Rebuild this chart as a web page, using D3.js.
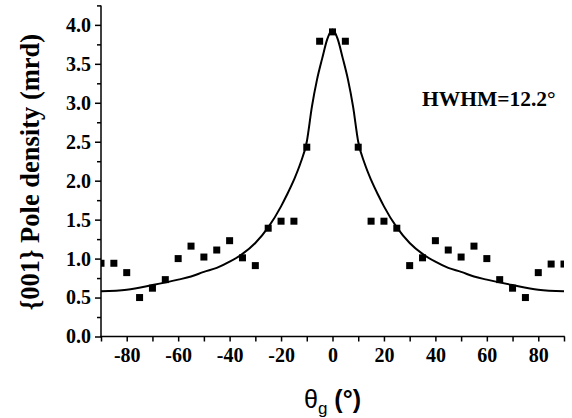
<!DOCTYPE html>
<html>
<head>
<meta charset="utf-8">
<script src="https://cdn.jsdelivr.net/npm/d3@7/dist/d3.min.js"></script>
<style>
  html, body { margin: 0; padding: 0; background: #fff; }
  svg { display: block; }
</style>
</head>
<body>
<svg id="chart" width="572" height="418"></svg>
<script>
// Measured points
const theta = [-90,-85,-80,-75,-70,-65,-60,-55,-50,-45,-40,-35,-30,-25,-20,-15,-10,-5,0,5,10,15,20,25,30,35,40,45,50,55,60,65,70,75,80,85,90];
const density = [0.94,0.94,0.82,0.50,0.62,0.73,1.00,1.16,1.02,1.11,1.23,1.01,0.91,1.39,1.48,1.48,2.43,3.79,3.91,3.79,2.43,1.48,1.48,1.39,0.91,1.01,1.23,1.11,1.02,1.16,1.00,0.73,0.62,0.50,0.82,0.93,0.93];

// Fitted curve
const fitTheta = [-90,-80,-70,-60,-55,-50,-45,-40,-35,-30,-25,-20,-18,-15,-12.5,-10,-8,-6,-4,-2,0,2,4,6,8,10,12.5,15,18,20,25,30,35,40,45,50,55,60,70,80,90];
const fitDensity = [0.58,0.60,0.66,0.73,0.77,0.83,0.88,0.96,1.06,1.20,1.40,1.67,1.80,2.01,2.22,2.50,2.95,3.30,3.57,3.82,3.94,3.82,3.57,3.30,2.95,2.50,2.22,2.01,1.80,1.67,1.40,1.20,1.06,0.96,0.88,0.83,0.77,0.73,0.66,0.60,0.58];

// Ticks
const xMajorTicks = [-80,-60,-40,-20,0,20,40,60,80];
const xMinorTicks = [-90,-70,-50,-30,-10,10,30,50,70,90];
const yMajorTicks = [0.0,0.5,1.0,1.5,2.0,2.5,3.0,3.5,4.0];
const yMinorTicks = [0.25,0.75,1.25,1.75,2.25,2.75,3.25,3.75,4.25];

const annotation = "HWHM=12.2°";
const yTitle = "{001} Pole density (mrd)";

const svg = d3.select("#chart");
const x = d3.scaleLinear().domain([-90, 90]).range([101, 564]);
const y = d3.scaleLinear().domain([0, 4.25]).range([336.5, 5.4]);

const serif = "'Liberation Serif','Times New Roman',serif";
const sans = "'Liberation Sans',Arial,sans-serif";

svg.append("defs").append("clipPath").attr("id", "plotclip")
  .append("rect")
  .attr("x", x(-90)).attr("y", y(4.25))
  .attr("width", x(90) - x(-90)).attr("height", y(0) - y(4.25));

const plot = svg.append("g").attr("clip-path", "url(#plotclip)");

// fit line
const line = d3.line().x((d, i) => x(fitTheta[i])).y(d => y(d)).curve(d3.curveMonotoneX);
plot.append("path")
  .datum(fitDensity)
  .attr("d", line)
  .attr("fill", "none")
  .attr("stroke", "#000")
  .attr("stroke-width", 2);

// square markers
const s = 7;
plot.selectAll("rect.pt").data(density).enter().append("rect")
  .attr("class", "pt")
  .attr("x", (d, i) => x(theta[i]) - s / 2)
  .attr("y", d => y(d) - s / 2)
  .attr("width", s).attr("height", s)
  .attr("fill", "#000");

// axes
const xAxisMajor = d3.axisBottom(x).tickValues(xMajorTicks).tickSize(5).tickPadding(6).tickFormat(d => String(d));
const xAxisMinor = d3.axisBottom(x).tickValues(xMinorTicks).tickSize(5).tickFormat("");
const yAxisMajor = d3.axisLeft(y).tickValues(yMajorTicks).tickSize(6).tickPadding(4).tickFormat(d3.format(".1f"));
const yAxisMinor = d3.axisLeft(y).tickValues(yMinorTicks).tickSize(4).tickFormat("");

function styleAxis(g) {
  g.select(".domain").remove();
  g.selectAll(".tick line").attr("stroke", "#000").attr("stroke-width", 1.5);
  g.selectAll(".tick text")
    .attr("fill", "#000")
    .style("font-family", serif)
    .style("font-weight", "bold")
    .style("font-size", "20px");
}

const gx = svg.append("g").attr("transform", `translate(0,${y(0)})`);
gx.append("g").call(xAxisMinor).call(styleAxis);
gx.append("g").call(xAxisMajor).call(styleAxis);

const gy = svg.append("g").attr("transform", `translate(${x(-90)},0)`);
gy.append("g").call(yAxisMinor).call(styleAxis);
gy.append("g").call(yAxisMajor).call(styleAxis);

// axis lines
svg.append("line")
  .attr("x1", x(-90) - 0.75).attr("x2", x(90) + 0.75)
  .attr("y1", y(0)).attr("y2", y(0))
  .attr("stroke", "#000").attr("stroke-width", 1.5);
svg.append("line")
  .attr("x1", x(-90)).attr("x2", x(-90))
  .attr("y1", y(0) + 0.75).attr("y2", y(4.25))
  .attr("stroke", "#000").attr("stroke-width", 1.5);

// annotation
svg.append("text")
  .attr("x", 422).attr("y", 106)
  .style("font-family", serif).style("font-weight", "bold").style("font-size", "21.5px")
  .attr("fill", "#000")
  .text(annotation);

// y title
svg.append("text")
  .attr("transform", `translate(39,172) rotate(-90)`)
  .attr("text-anchor", "middle")
  .style("font-family", serif).style("font-weight", "bold").style("font-size", "26.5px")
  .attr("fill", "#000")
  .text(yTitle);

// x title: θg (°)
const xt = svg.append("text")
  .attr("x", x(0)).attr("y", 408)
  .attr("text-anchor", "middle")
  .style("font-family", sans).style("font-size", "25px")
  .attr("fill", "#000");
xt.append("tspan").text("θ");
xt.append("tspan").attr("dy", 6).style("font-size", "17px").text("g");
xt.append("tspan").attr("dy", -6).style("font-weight", "bold").text(" (°)");
</script>
</body>
</html>
